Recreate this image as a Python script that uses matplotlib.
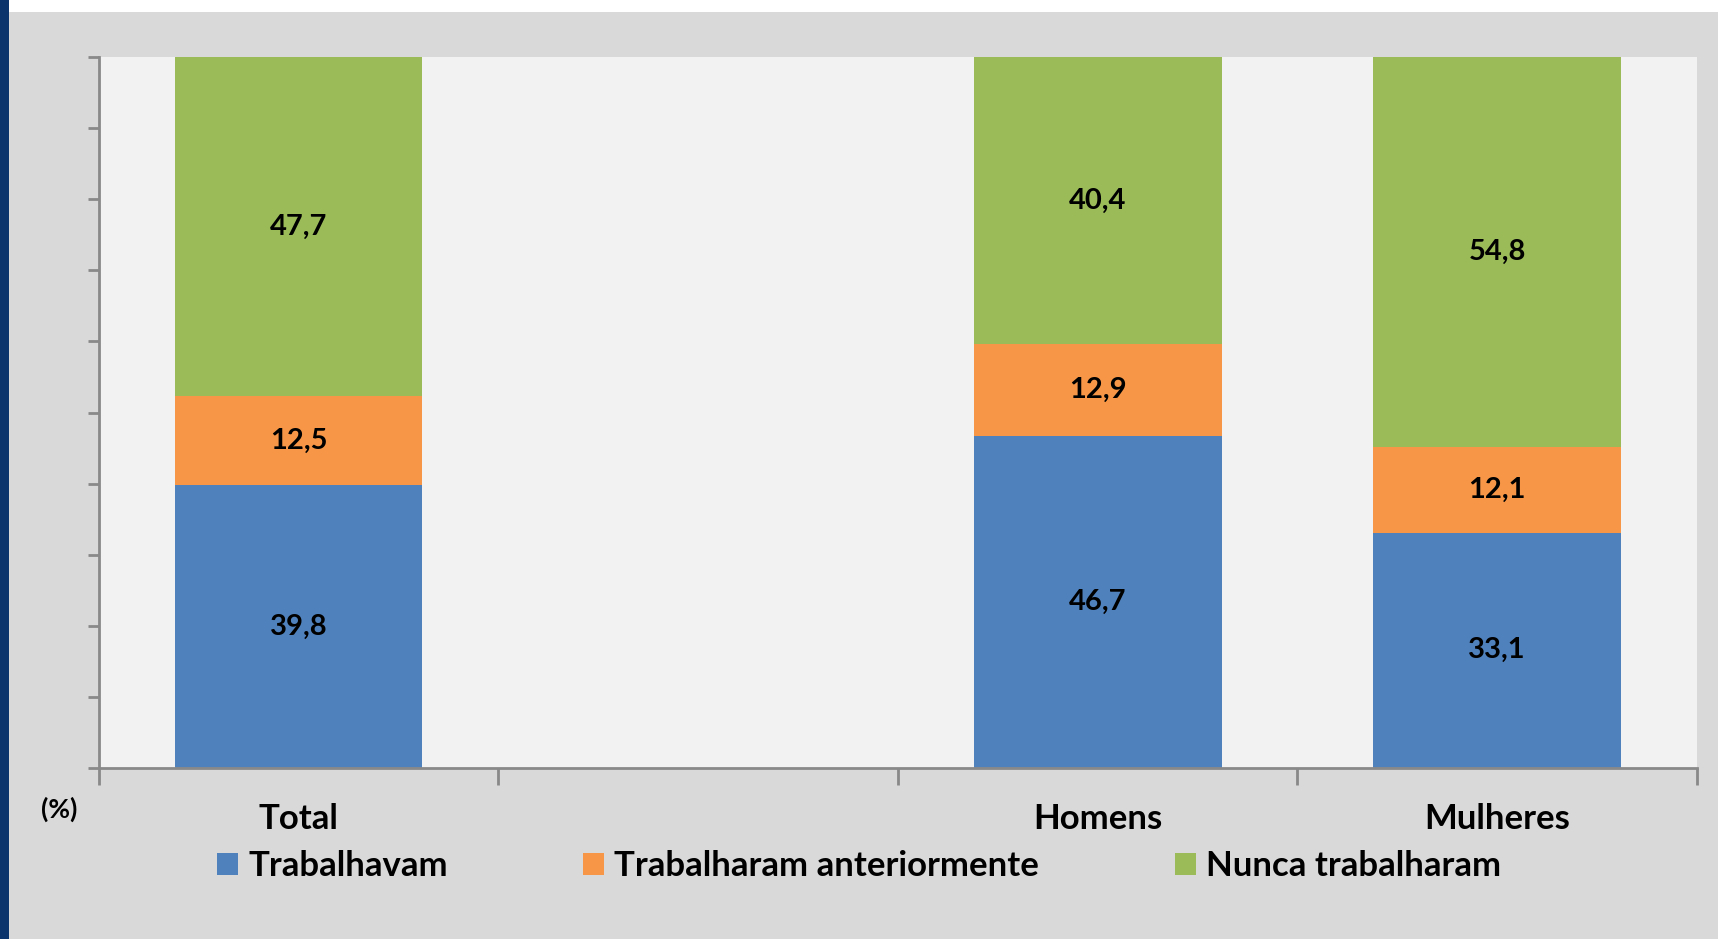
import numpy as np
import matplotlib
matplotlib.use("Agg")
import matplotlib.pyplot as plt
from matplotlib.patches import Rectangle, Patch

# ── Data ──
categories = ["Total", "", "Homens", "Mulheres"]
trabalhavam = [39.8, np.nan, 46.7, 33.1]
anteriormente = [12.5, np.nan, 12.9, 12.1]
nunca = [47.7, np.nan, 40.4, 54.8]
series_names = ["Trabalhavam", "Trabalharam anteriormente", "Nunca trabalharam"]

COLORS = ["#4f81bd", "#f79646", "#9bbb59"]
FONT = ["Lato", "DejaVu Sans"]
plt.rcParams["font.family"] = FONT

W, H = 1718, 939
fig = plt.figure(figsize=(W / 100, H / 100), dpi=100)
fig.patch.set_facecolor("white")

# background panels (navy stripe on the left, grey chart area)
fig.add_artist(Rectangle((0, 0), 9 / W, 1, transform=fig.transFigure,
                         facecolor="#0b346c", edgecolor="none", zorder=0))
fig.add_artist(Rectangle((9 / W, 0), 1, 1 - 12 / H, transform=fig.transFigure,
                         facecolor="#d9d9d9", edgecolor="none", zorder=0))

ax = fig.add_axes([98.7 / W, 1 - 768 / H, (1697 - 98.7) / W, (768 - 57) / H])
ax.set_facecolor("#f2f2f2")

x = np.arange(len(categories))
width = 0.62
bottom = np.zeros(len(categories))
for vals, col, name in zip([trabalhavam, anteriormente, nunca], COLORS, series_names):
    vals = np.array(vals, dtype=float)
    ax.bar(x, np.nan_to_num(vals), width, bottom=bottom, color=col,
           label=name, zorder=2)
    for xi, b, v in zip(x, bottom, vals):
        if not np.isnan(v):
            ax.text(xi, b + v / 2, f"{v:.1f}".replace(".", ","), ha="center",
                    va="center", fontsize=21, fontweight="bold", color="black",
                    zorder=3)
    bottom = bottom + np.nan_to_num(vals)

ax.set_xlim(-0.5, len(categories) - 0.5)
ax.set_ylim(0, 100)

# axes styling
for s in ["top", "right"]:
    ax.spines[s].set_visible(False)
for s in ["left", "bottom"]:
    ax.spines[s].set_color("#898989")
    ax.spines[s].set_linewidth(2)

ax.set_yticks(np.arange(0, 101, 10))
ax.set_yticklabels([])
ax.tick_params(axis="y", length=8, width=2, color="#898989", direction="out")

ax.set_xticks(x)
ax.set_xticklabels(categories, fontsize=25, fontweight="bold")
ax.tick_params(axis="x", length=0, pad=25)
ax.set_xticks(np.arange(-0.5, len(categories), 1), minor=True)
ax.tick_params(axis="x", which="minor", length=12, width=2, color="#898989",
               direction="out")

fig.text(59 / W, 1 - 809 / H, "(%)", ha="center", va="center", fontsize=19,
         fontweight="bold")

handles = [Patch(facecolor=c, edgecolor="none") for c in COLORS]
fig.legend(handles, series_names, loc="center", bbox_to_anchor=(0.5, 1 - 866 / H),
           ncol=3, frameon=False, prop={"family": FONT, "size": 25, "weight": "bold"},
           handlelength=0.6, handleheight=0.6, handletextpad=0.3, columnspacing=3.9)

fig.savefig("out.png", dpi=100, facecolor=fig.get_facecolor())
